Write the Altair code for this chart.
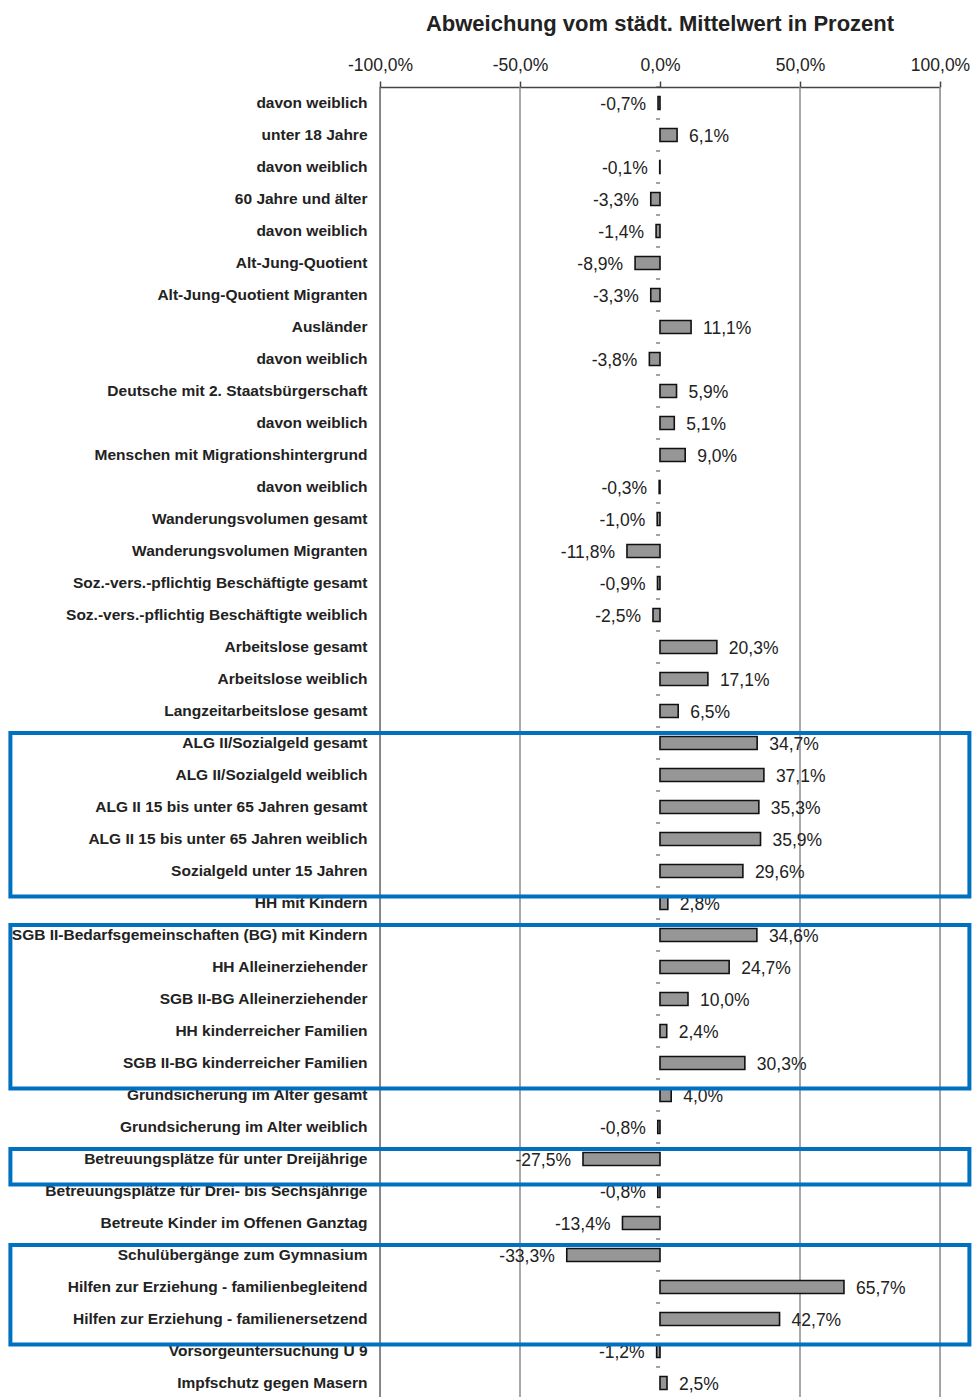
import json
import altair as alt
import pandas as pd

names = [
    "davon weiblich",
    "unter 18 Jahre",
    "davon weiblich",
    "60 Jahre und älter",
    "davon weiblich",
    "Alt-Jung-Quotient",
    "Alt-Jung-Quotient Migranten",
    "Ausländer",
    "davon weiblich",
    "Deutsche mit 2. Staatsbürgerschaft",
    "davon weiblich",
    "Menschen mit Migrationshintergrund",
    "davon weiblich",
    "Wanderungsvolumen gesamt\u00a0",
    "Wanderungsvolumen Migranten\u00a0",
    "Soz.-vers.-pflichtig Beschäftigte gesamt",
    "Soz.-vers.-pflichtig Beschäftigte weiblich",
    "Arbeitslose gesamt",
    "Arbeitslose weiblich",
    "Langzeitarbeitslose gesamt",
    "ALG II/Sozialgeld gesamt",
    "ALG II/Sozialgeld weiblich",
    "ALG II 15 bis unter 65 Jahren gesamt",
    "ALG II 15 bis unter 65 Jahren weiblich",
    "Sozialgeld unter 15 Jahren",
    "HH mit Kindern",
    "SGB II-Bedarfsgemeinschaften (BG) mit Kindern",
    "HH Alleinerziehender",
    "SGB II-BG Alleinerziehender",
    "HH kinderreicher Familien",
    "SGB II-BG kinderreicher Familien",
    "Grundsicherung im Alter gesamt",
    "Grundsicherung im Alter weiblich\u00a0",
    "Betreuungsplätze für unter Dreijährige",
    "Betreuungsplätze für Drei- bis Sechsjährige",
    "Betreute Kinder im Offenen Ganztag",
    "Schulübergänge zum Gymnasium",
    "Hilfen zur Erziehung - familienbegleitend",
    "Hilfen zur Erziehung - familienersetzend",
    "Vorsorgeuntersuchung U 9",
    "Impfschutz gegen Masern",
]

values = [
    -0.7, 6.1, -0.1, -3.3, -1.4, -8.9, -3.3, 11.1, -3.8, 5.9,
    5.1, 9.0, -0.3, -1.0, -11.8, -0.9, -2.5, 20.3, 17.1, 6.5,
    34.7, 37.1, 35.3, 35.9, 29.6, 2.8, 34.6, 24.7, 10.0, 2.4,
    30.3, 4.0, -0.8, -27.5, -0.8, -13.4, -33.3, 65.7, 42.7, -1.2,
    2.5,
]

tick_values = [-100, -50, 0, 50, 100]
grid_values = [-100, -50, 50, 100]

# highlighted groups: first row index and index of the row after the group
box_first = [20, 26, 33, 36]
box_next = [25, 31, 34, 39]

df = pd.DataFrame({"idx": list(range(len(names))), "value": values})
df["label"] = [f"{v:.1f}".replace(".", ",") + "%" for v in values]

grid_df = pd.DataFrame({"g": grid_values})
box_df = pd.DataFrame({"first": box_first, "next": box_next})

FONT = "Liberation Sans"
TXT = "#222222"

y_label_expr = "[" + ",".join(json.dumps(n, ensure_ascii=False) for n in names) + "][datum.value]"
x_label_expr = "(datum.value < 0 ? '-' : '') + replace(format(abs(datum.value), '.1f'), '.', ',') + '%'"

yscale = alt.Scale(paddingInner=0, paddingOuter=0)
xscale = alt.Scale(domain=[-100, 100], nice=False, zero=False)

grid = alt.Chart(grid_df).mark_rule(strokeWidth=1.5).encode(
    x=alt.X("g:Q", scale=xscale),
    color=alt.condition("datum.g == -100", alt.value("#666666"), alt.value("#8c8c8c")),
)

bars = alt.Chart(df).mark_bar(size=13, color="#969696", stroke="#111111", strokeWidth=1.6).encode(
    y=alt.Y(
        "idx:O",
        scale=yscale,
        axis=alt.Axis(
            title=None,
            labelExpr=y_label_expr,
            ticks=False,
            domain=False,
            labelFont=FONT,
            labelFontSize=15.5,
            labelFontWeight="bold",
            labelColor=TXT,
            labelPadding=13,
            labelLimit=500,
        ),
    ),
    x=alt.X(
        "value:Q",
        scale=xscale,
        axis=alt.Axis(
            orient="top",
            title=None,
            values=tick_values,
            labelExpr=x_label_expr,
            labelFlush=False,
            grid=False,
            domainColor="#444444",
            domainWidth=1.5,
            tickColor="#444444",
            tickWidth=1.5,
            tickSize=6,
            labelFont=FONT,
            labelFontSize=17.5,
            labelColor=TXT,
            labelPadding=7,
        ),
    ),
    x2=alt.datum(0),
)

zero_ticks = alt.Chart(df).mark_rule(color="#444444", strokeWidth=1).encode(
    y=alt.Y("idx:O", scale=yscale, bandPosition=0),
    x=alt.datum(0),
    x2=alt.datum(-1.4),
)

pos_labels = alt.Chart(df).transform_filter("datum.value >= 0").mark_text(
    align="left", baseline="middle", dx=12, dy=1.5, font=FONT, fontSize=17.5, color=TXT
).encode(
    y=alt.Y("idx:O", scale=yscale),
    x=alt.X("value:Q", scale=xscale),
    text="label:N",
)

neg_labels = alt.Chart(df).transform_filter("datum.value < 0").mark_text(
    align="right", baseline="middle", dx=-12, dy=1.5, font=FONT, fontSize=17.5, color=TXT
).encode(
    y=alt.Y("idx:O", scale=yscale),
    x=alt.X("value:Q", scale=xscale),
    text="label:N",
)

boxes = alt.Chart(box_df).mark_rect(fillOpacity=0, stroke="#0070C0", strokeWidth=4).encode(
    y=alt.Y("first:O", scale=yscale, bandPosition=0.19),
    y2=alt.Y2("next", bandPosition=0.3),
    x=alt.datum(-232),
    x2=alt.datum(110.5),
)

chart = alt.layer(grid, bars, zero_ticks, pos_labels, neg_labels, boxes).properties(
    width=560,
    height=1312,
    padding={"left": 380, "top": 87, "right": 33, "bottom": 0},
    autosize=alt.AutoSizeParams(type="none"),
    title=alt.TitleParams(
        "Abweichung vom städt. Mittelwert in Prozent",
        font=FONT,
        fontSize=22,
        fontWeight="bold",
        color=TXT,
        anchor="middle",
        offset=20,
    ),
).configure_view(stroke=None).configure(background="white")

chart.save("out.html", embed_options={"renderer": "svg", "actions": False})
